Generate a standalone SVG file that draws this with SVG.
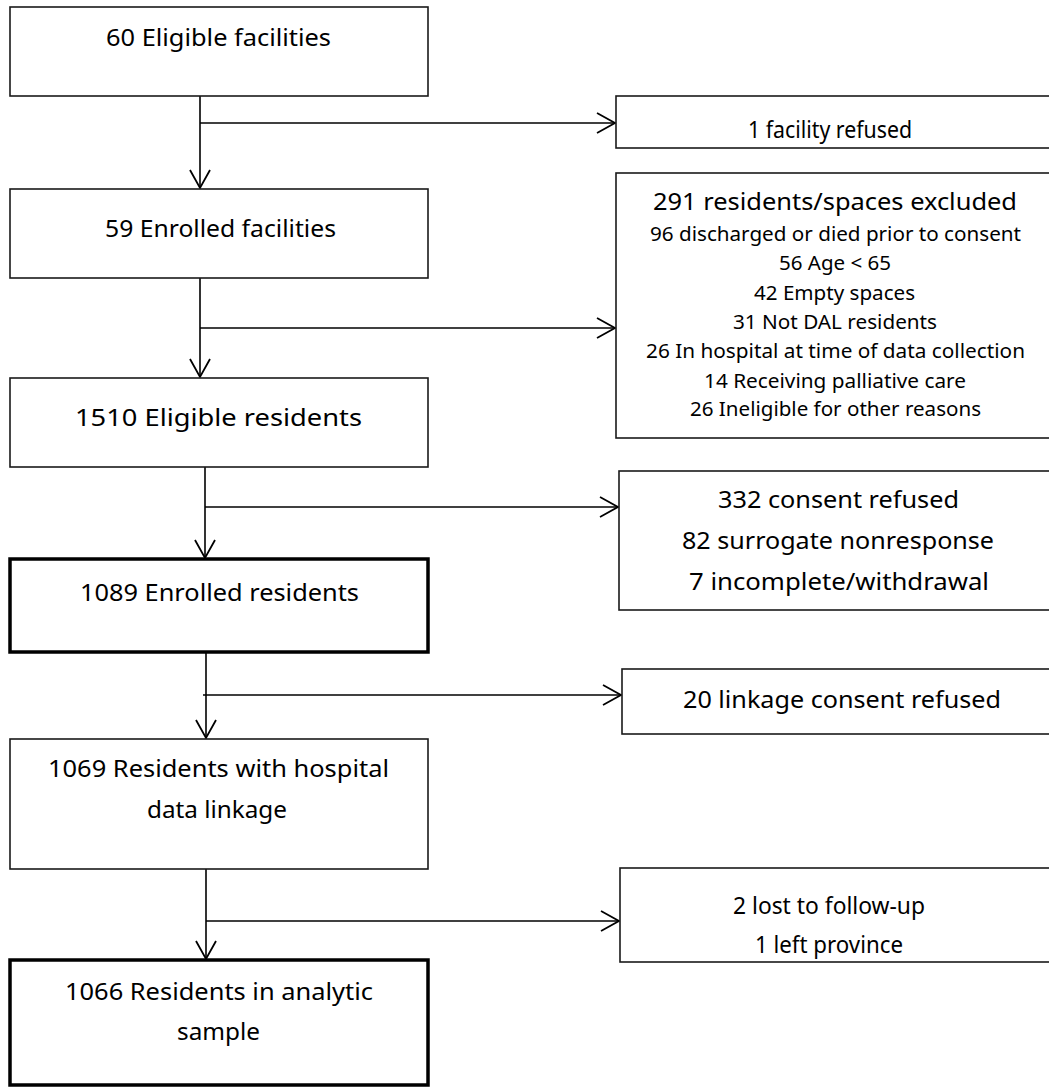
<svg xmlns="http://www.w3.org/2000/svg" width="1049" height="1090" viewBox="0 0 1049 1090">
<style>
.box{fill:#fff;stroke:#1a1a1a;stroke-width:1.6}
.thick{fill:#fff;stroke:#000;stroke-width:3.5}
.t{font-family:"Noto Sans","Open Sans",sans-serif;font-size:24px;fill:#000}
.s{font-family:"Noto Sans","Open Sans",sans-serif;font-size:20px;fill:#000}
.ln{fill:none;stroke:#000;stroke-width:1.6}
</style>
<defs>
<marker id="ah" viewBox="-20 -12 22 24" refX="0" refY="0" markerUnits="userSpaceOnUse" markerWidth="22" markerHeight="24" orient="auto">
<path d="M -18 -10 L 0 0 L -18 10" fill="none" stroke="#000" stroke-width="1.8"/>
</marker>
</defs>
<rect width="1049" height="1090" fill="#fff"/>
<g id="connectors">
<line class="ln" x1="200" y1="96" x2="200" y2="188" marker-end="url(#ah)"/>
<line class="ln" x1="200" y1="123" x2="615" y2="123" marker-end="url(#ah)"/>
<line class="ln" x1="200" y1="278" x2="200" y2="377" marker-end="url(#ah)"/>
<line class="ln" x1="200" y1="328" x2="615" y2="328" marker-end="url(#ah)"/>
<line class="ln" x1="205" y1="467" x2="205" y2="558" marker-end="url(#ah)"/>
<line class="ln" x1="205" y1="507" x2="618" y2="507" marker-end="url(#ah)"/>
<line class="ln" x1="206" y1="652" x2="206" y2="738" marker-end="url(#ah)"/>
<line class="ln" x1="203" y1="695" x2="621" y2="695" marker-end="url(#ah)"/>
<line class="ln" x1="206" y1="869" x2="206" y2="959" marker-end="url(#ah)"/>
<line class="ln" x1="206" y1="921" x2="619" y2="921" marker-end="url(#ah)"/>
</g>
<g id="n1"><rect class="box" x="10" y="7" width="418" height="89"/>
<text class="t" x="106" y="46" textLength="225" lengthAdjust="spacingAndGlyphs">60 Eligible facilities</text></g>
<g id="r1"><rect class="box" x="616" y="96" width="460" height="52"/>
<text class="t" x="748" y="138" textLength="164" lengthAdjust="spacingAndGlyphs">1 facility refused</text></g>
<g id="n2"><rect class="box" x="10" y="189" width="418" height="89"/>
<text class="t" x="105" y="237" textLength="231" lengthAdjust="spacingAndGlyphs">59 Enrolled facilities</text></g>
<g id="r2"><rect class="box" x="616" y="173" width="460" height="265"/>
<text class="t" x="653" y="210" textLength="364" lengthAdjust="spacingAndGlyphs">291 residents/spaces excluded</text>
<text class="s" x="650" y="241" textLength="371" lengthAdjust="spacingAndGlyphs">96 discharged or died prior to consent</text>
<text class="s" x="779" y="270" textLength="112" lengthAdjust="spacingAndGlyphs">56 Age &lt; 65</text>
<text class="s" x="754" y="300" textLength="161" lengthAdjust="spacingAndGlyphs">42 Empty spaces</text>
<text class="s" x="733" y="329" textLength="204" lengthAdjust="spacingAndGlyphs">31 Not DAL residents</text>
<text class="s" x="646" y="358" textLength="379" lengthAdjust="spacingAndGlyphs">26 In hospital at time of data collection</text>
<text class="s" x="704" y="388" textLength="262" lengthAdjust="spacingAndGlyphs">14 Receiving palliative care</text>
<text class="s" x="690" y="416" textLength="291" lengthAdjust="spacingAndGlyphs">26 Ineligible for other reasons</text></g>
<g id="n3"><rect class="box" x="10" y="378" width="418" height="89"/>
<text class="t" x="75" y="426" textLength="287" lengthAdjust="spacingAndGlyphs">1510 Eligible residents</text></g>
<g id="r3"><rect class="box" x="619" y="471" width="460" height="139"/>
<text class="t" x="718" y="508" textLength="241" lengthAdjust="spacingAndGlyphs">332 consent refused</text>
<text class="t" x="682" y="549" textLength="312" lengthAdjust="spacingAndGlyphs">82 surrogate nonresponse</text>
<text class="t" x="689" y="590" textLength="300" lengthAdjust="spacingAndGlyphs">7 incomplete/withdrawal</text></g>
<g id="n4"><rect class="thick" x="10" y="559" width="418" height="93"/>
<text class="t" x="80" y="601" textLength="279" lengthAdjust="spacingAndGlyphs">1089 Enrolled residents</text></g>
<g id="r4"><rect class="box" x="622" y="669" width="460" height="65"/>
<text class="t" x="683" y="708" textLength="318" lengthAdjust="spacingAndGlyphs">20 linkage consent refused</text></g>
<g id="n5"><rect class="box" x="10" y="739" width="418" height="130"/>
<text class="t" x="48" y="777" textLength="341" lengthAdjust="spacingAndGlyphs">1069 Residents with hospital</text>
<text class="t" x="147" y="818" textLength="140" lengthAdjust="spacingAndGlyphs">data linkage</text></g>
<g id="r5"><rect class="box" x="620" y="868" width="460" height="94"/>
<text class="t" x="733" y="914" textLength="192" lengthAdjust="spacingAndGlyphs">2 lost to follow-up</text>
<text class="t" x="755" y="953" textLength="148" lengthAdjust="spacingAndGlyphs">1 left province</text></g>
<g id="n6"><rect class="thick" x="10" y="960" width="418" height="125"/>
<text class="t" x="65" y="1000" textLength="308" lengthAdjust="spacingAndGlyphs">1066 Residents in analytic</text>
<text class="t" x="177" y="1040" textLength="83" lengthAdjust="spacingAndGlyphs">sample</text></g>
</svg>
